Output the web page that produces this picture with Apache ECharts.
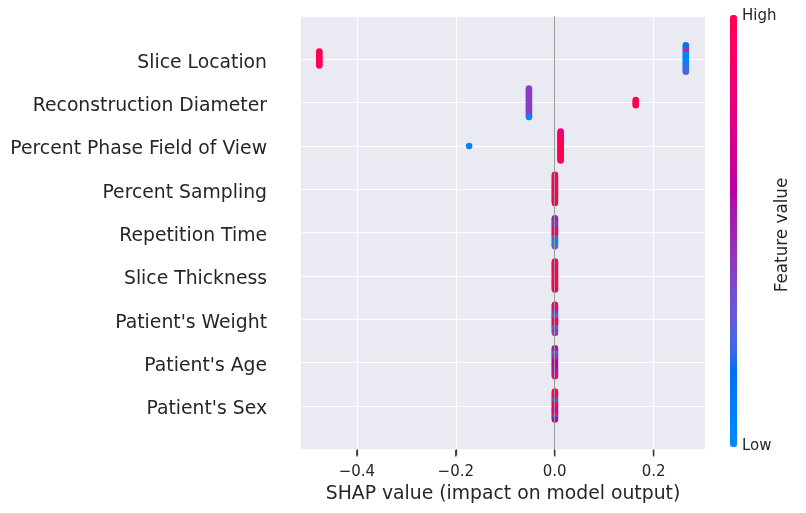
<!DOCTYPE html>
<html><head><meta charset="utf-8">
<script src="https://cdn.jsdelivr.net/npm/echarts@6/dist/echarts.min.js"></script>
<style>html,body{margin:0;padding:0;background:#fff}#c{width:806px;height:513px}</style>
</head><body><div id="c"></div>
<script>
// Features, top to bottom
const features = ["Slice Location", "Reconstruction Diameter", "Percent Phase Field of View", "Percent Sampling", "Repetition Time", "Slice Thickness", "Patient's Weight", "Patient's Age", "Patient's Sex"];
const xTickValues = [-0.4, -0.2, 0.0, 0.2];

// SHAP values and (normalised) feature values per sample
const shapSliceLocation = [0.2653,0.2653,0.2653,0.2653,0.2653,0.2653,0.2653,0.2653,0.2653,0.2653,0.2653,0.2653,0.2653,0.2653,0.2653,0.2653,0.2653,0.2653,-0.476,-0.476,-0.476,-0.476,-0.476,-0.476,-0.476,-0.476,-0.476,-0.476];
const valueSliceLocation = [0.05,0.05,0.05,0.05,0.05,0.05,0.05,0.05,0.05,0.05,0.05,0.05,0.25,0.9,0.25,0.35,0.25,0.15,1,1,0.97,1,1,0.98,1,1,0.97,1];

const shapReconstructionDiameter = [-0.052,-0.052,-0.052,-0.052,-0.052,-0.052,-0.052,-0.052,-0.052,-0.052,-0.052,-0.052,-0.052,-0.052,-0.052,-0.052,-0.052,-0.052,-0.052,-0.052,-0.052,-0.052,-0.052,0.164,0.164,0.164,0.164,0.164];
const valueReconstructionDiameter = [0.42,0.42,0.42,0.42,0.42,0.42,0.42,0.42,0.42,0.42,0.42,0.42,0.42,0.42,0.42,0.42,0.42,0.42,0.42,0.42,0.42,0.42,0.05,1,1,0.97,1,1];

const shapPercentPhase = [0.012,0.012,0.012,0.012,0.012,0.012,0.012,0.012,0.012,0.012,0.012,0.012,0.012,0.012,0.012,0.012,0.012,0.012,0.012,0.012,0.012,0.012,0.012,0.012,0.012,0.012,0.012,-0.173];
const valuePercentPhase = [1,1,1,1,1,1,1,1,1,1,1,1,1,1,1,1,1,0.9,1,0.9,1,0.9,1,0.82,1,0.82,1,0.05];

const shapPercentSampling = [0.0005,0.0005,0.0005,0.0005,0.0005,0.0005,0.0005,0.0005,0.0005,0.0005,0.0005,0.0005,0.0005,0.0005,0.0005,0.0005,0.0005,0.0005,0.0005,0.0005,0.0005,0.0005,0.0005,0.0005,0.0005,0.0005,0.0005,0.0005];
const valuePercentSampling = [1,1,1,1,1,1,1,1,1,1,1,1,1,1,1,1,1,1,1,1,1,0.92,1,0.92,1,0.92,1,0.92];

const shapRepetitionTime = [0.0005,0.0005,0.0005,0.0005,0.0005,0.0005,0.0005,0.0005,0.0005,0.0005,0.0005,0.0005,0.0005,0.0005,0.0005,0.0005,0.0005,0.0005,0.0005,0.0005,0.0005,0.0005,0.0005,0.0005,0.0005,0.0005,0.0005,0.0005];
const valueRepetitionTime = [1,1,1,1,1,1,1,0.85,1,0.85,0.3,0.85,0.3,0.85,0.3,0.45,0.3,0.45,0.05,0.45,0.05,0.45,0.05,0.45,0.05,0.45,0.3,0.5];

const shapSliceThickness = [0.0005,0.0005,0.0005,0.0005,0.0005,0.0005,0.0005,0.0005,0.0005,0.0005,0.0005,0.0005,0.0005,0.0005,0.0005,0.0005,0.0005,0.0005,0.0005,0.0005,0.0005,0.0005,0.0005,0.0005,0.0005,0.0005,0.0005,0.0005];
const valueSliceThickness = [1,1,1,1,1,1,1,1,1,1,1,1,1,1,1,1,1,1,1,1,1,1,1,0.97,1,0.97,1,0.97];

const shapPatientWeight = [0.0005,0.0005,0.0005,0.0005,0.0005,0.0005,0.0005,0.0005,0.0005,0.0005,0.0005,0.0005,0.0005,0.0005,0.0005,0.0005,0.0005,0.0005,0.0005,0.0005,0.0005,0.0005,0.0005,0.0005,0.0005,0.0005,0.0005,0.0005];
const valuePatientWeight = [1,1,1,1,1,1,1,0.3,1,0.3,1,0.3,1,0.3,1,0.45,0.3,0.45,0.3,0.45,0.3,0.75,0.3,0.75,0.45,0.75,0.4,0.97];

const shapPatientAge = [0.0005,0.0005,0.0005,0.0005,0.0005,0.0005,0.0005,0.0005,0.0005,0.0005,0.0005,0.0005,0.0005,0.0005,0.0005,0.0005,0.0005,0.0005,0.0005,0.0005,0.0005,0.0005,0.0005,0.0005,0.0005,0.0005,0.0005,0.0005];
const valuePatientAge = [0.62,0.62,0.62,0.62,0.62,0.62,0.62,0.62,0.62,0.62,0.62,0.45,0.62,0.45,0.62,0.45,0.55,0.45,0.55,0.45,0.55,0.3,0.55,0.3,0.55,0.3,0.9,0.55];

const shapPatientSex = [0.0005,0.0005,0.0005,0.0005,0.0005,0.0005,0.0005,0.0005,0.0005,0.0005,0.0005,0.0005,0.0005,0.0005,0.0005,0.0005,0.0005,0.0005,0.0005,0.0005,0.0005,0.0005,0.0005,0.0005,0.0005,0.0005,0.0005,0.0005];
const valuePatientSex = [1,1,0.75,1,0.75,1,0.75,1,0.75,1,0.75,1,0.75,0.08,0.75,0.08,1,0.08,1,0.97,1,0.97,0.05,0.97,0.05,0.97,0.6,0.97];

const shapByFeature = [shapSliceLocation, shapReconstructionDiameter, shapPercentPhase, shapPercentSampling, shapRepetitionTime, shapSliceThickness, shapPatientWeight, shapPatientAge, shapPatientSex];
const valueByFeature = [valueSliceLocation, valueReconstructionDiameter, valuePercentPhase, valuePercentSampling, valueRepetitionTime, valueSliceThickness, valuePatientWeight, valuePatientAge, valuePatientSex];

// SHAP-style beeswarm layout (vertical jitter from bin counts)
function beeswarm(shaps, rowHeight) {
  const N = shaps.length, nbins = 100;
  const mn = Math.min(...shaps), mx = Math.max(...shaps);
  const quant = shaps.map(s => Math.round(nbins * (s - mn) / (mx - mn + 1e-8)));
  const inds = shaps.map((_, i) => i).sort((a, b) => quant[a] - quant[b]);
  let layer = 0, last = -1;
  const ys = new Array(N).fill(0);
  for (const i of inds) {
    if (quant[i] !== last) layer = 0;
    ys[i] = Math.ceil(layer / 2) * ((layer % 2) * 2 - 1);
    layer++; last = quant[i];
  }
  const m = Math.max(...ys.map(y => y + 1));
  return ys.map(y => y * 0.9 * (rowHeight / m));
}

// SHAP red_blue colormap (LCH interpolation)
function lch2hex(L, C, H) {
  const a = C * Math.cos(H), b = C * Math.sin(H);
  const fy = (L + 16) / 116, fx = fy + a / 500, fz = fy - b / 200;
  const d = 6 / 29;
  const finv = t => t > d ? t * t * t : 3 * d * d * (t - 4 / 29);
  const X = 0.95047 * finv(fx), Y = finv(fy), Z = 1.08883 * finv(fz);
  const r = 3.2404542 * X - 1.5371385 * Y - 0.4985314 * Z;
  const g = -0.9692660 * X + 1.8760108 * Y + 0.0415560 * Z;
  const bl = 0.0556434 * X - 0.2040259 * Y + 1.0572252 * Z;
  const gam = v => { v = Math.min(1, Math.max(0, v)); v = v <= 0.0031308 ? 12.92 * v : 1.055 * Math.pow(v, 1 / 2.4) - 0.055; return Math.round(Math.min(1, Math.max(0, v)) * 255); };
  return 'rgb(' + gam(r) + ',' + gam(g) + ',' + gam(bl) + ')';
}
function redBlue() {
  const cols = [];
  for (let i = 0; i < 100; i++) {
    const L = i < 50 ? 54 + (40 - 54) * i / 49 : 40 + (54 - 40) * (i - 50) / 49;
    const C = 70 + 20 * i / 99;
    const H = 4.6588 + (0.35470565 + 2 * Math.PI - 4.6588) * i / 99;
    cols.push(lch2hex(L, C, H));
  }
  return cols;
}

// rows 1..9 (bottom feature at 1), so the axis value 0 is the bottom edge of the plot
const points = [];
features.forEach((f, fi) => {
  const row = features.length - fi;
  const shaps = shapByFeature[fi], vals = valueByFeature[fi];
  const ys = beeswarm(shaps, 0.4);
  shaps.forEach((s, j) => points.push([s, row + ys[j], vals[j]]));
});

const FONT = 'DejaVu Sans';
const TXT = '#262626';
const Y_MIN = 0, Y_MAX = 10;
const baseGraphic = [
  {type: 'text', x: 742, y: 16, style: {text: 'High', font: '15px "DejaVu Sans"', fill: TXT, align: 'left', verticalAlign: 'middle', textAlign: 'left', textVerticalAlign: 'middle'}},
  {type: 'text', x: 742, y: 446, style: {text: 'Low', font: '15px "DejaVu Sans"', fill: TXT, align: 'left', verticalAlign: 'middle', textAlign: 'left', textVerticalAlign: 'middle'}},
  {type: 'text', x: 783, y: 235, rotation: Math.PI / 2, style: {text: 'Feature value', font: '16.8px "DejaVu Sans"', fill: TXT, align: 'center', verticalAlign: 'middle', textAlign: 'center', textVerticalAlign: 'middle'}}
];
const chart = echarts.init(document.getElementById('c'), null, {renderer: 'canvas'});
chart.setOption({
  animation: false,
  backgroundColor: '#ffffff',
  grid: {left: 301, right: 101, top: 16, bottom: 63.6, show: true, backgroundColor: '#eaeaf2', borderWidth: 0, containLabel: false},
  xAxis: {
    type: 'value', min: -0.513, max: 0.304, position: 'bottom',
    axisLine: {show: false, onZero: true},
    axisTick: {show: true, length: 6, customValues: xTickValues, lineStyle: {color: '#444444', width: 1.3}},
    axisLabel: {customValues: xTickValues, fontSize: 15, fontFamily: FONT, color: TXT, margin: 15,
      formatter: v => (v < 0 ? '\u2212' : '') + Math.abs(v).toFixed(1)},
    splitLine: {show: true, lineStyle: {color: '#ffffff', width: 1}},
    name: 'SHAP value (impact on model output)', nameLocation: 'middle', nameGap: 34,
    nameTextStyle: {fontSize: 18.8, fontFamily: FONT, color: TXT}
  },
  yAxis: {
    type: 'value', min: Y_MIN, max: Y_MAX, interval: 1,
    axisLine: {show: false}, axisTick: {show: false},
    axisLabel: {fontSize: 18.8, fontFamily: FONT, color: TXT, margin: 34, verticalAlign: 'top', lineHeight: 7,
      formatter: v => (v >= 1 && v <= features.length) ? features[features.length - v] : ''},
    splitLine: {show: true, lineStyle: {color: '#ffffff', width: 1}}
  },
  visualMap: {
    type: 'continuous', min: 0, max: 1, dimension: 2, seriesIndex: 1,
    calculable: false, hoverLink: false, show: true,
    left: 730, top: 15, itemWidth: 7, itemHeight: 432, padding: 0,
    inRange: {color: redBlue()}
  },
  graphic: baseGraphic,
  series: [
    {type: 'scatter', data: [], z: 2, silent: true,
      markLine: {silent: true, symbol: ['none', 'none'], label: {show: false},
        lineStyle: {color: '#999999', width: 1, type: 'solid'}, data: [{xAxis: 0}]}},
    {type: 'scatter', data: points, symbolSize: 6.5, z: 3, silent: true,
      itemStyle: {opacity: 1, borderWidth: 0}}
  ]
});
// x-axis tick marks below the plot, placed through the axis scale
const tickMarks = xTickValues.map(v => {
  const p = chart.convertToPixel({gridIndex: 0}, [v, Y_MIN]);
  return {type: 'rect', silent: true, z: 100,
    shape: {x: p[0] - 0.7, y: p[1] + 0.5, width: 1.4, height: 6.5},
    style: {fill: '#3a3a3a'}};
});
chart.setOption({graphic: baseGraphic.concat(tickMarks)});
</script></body></html>
